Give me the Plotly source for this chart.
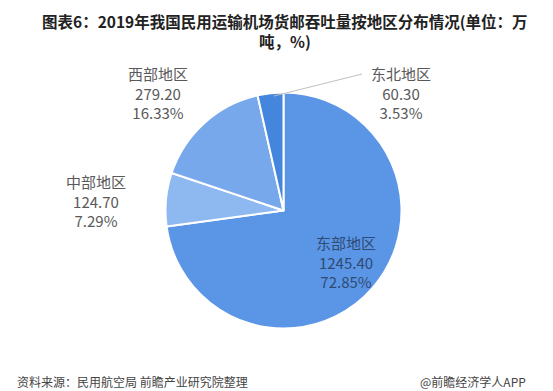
import plotly.graph_objects as go

regions = ["东部地区", "中部地区", "西部地区", "东北地区"]
volumes = [1245.40, 124.70, 279.20, 60.30]
shares = [72.85, 7.29, 16.33, 3.53]
colors = ["#5B96E6", "#8DB8F0", "#78A8EC", "#4486DE"]

W, H = 553, 391
FONT = "Noto Sans CJK SC, Microsoft YaHei, sans-serif"

fig = go.Figure()
fig.add_trace(go.Pie(
    labels=regions,
    values=volumes,
    sort=False,
    direction="clockwise",
    rotation=0,
    marker=dict(colors=colors, line=dict(color="#FFFFFF", width=2)),
    textinfo="none",
    hoverinfo="label+value+percent",
    showlegend=False,
    domain=dict(x=[(275.5 - 118) / W, (275.5 + 118) / W],
                y=[(H - 202.5 - 118) / H, (H - 202.5 + 118) / H]),
))

# label block positions (pixel centres) – layout only
label_pos = {
    "东部地区": (338, 254, "#2E4B73"),
    "中部地区": (88, 193, "#595959"),
    "西部地区": (150, 85, "#595959"),
    "东北地区": (393, 85, "#595959"),
}
for name, v, s in zip(regions, volumes, shares):
    px, py, col = label_pos[name]
    fig.add_annotation(
        x=px / W, y=1 - py / H, xref="paper", yref="paper",
        xanchor="center", yanchor="middle", showarrow=False,
        text=f"{name}<br>{v:.2f}<br>{s:.2f}%",
        font=dict(family=FONT, size=15, color=col),
        align="center",
    )

# leader line for 东北地区
fig.add_shape(type="line", xref="paper", yref="paper",
              x0=266 / W, y0=1 - 88 / H, x1=354 / W, y1=1 - 66 / H,
              line=dict(color="#BFBFBF", width=1))

title_lines = ["图表6：2019年我国民用运输机场货邮吞吐量按地区分布情况(单位：万", "吨，%)"]
for i, t in enumerate(title_lines):
    fig.add_annotation(
        x=0.5, y=1 - (13 + 20 * i) / H, xref="paper", yref="paper",
        xanchor="center", yanchor="middle", showarrow=False,
        text=f"<b>{t}</b>",
        font=dict(family=FONT, size=15.5, color="#222222"), align="center",
    )

fig.add_annotation(
    x=7 / W, y=1 - 373 / H, xref="paper", yref="paper",
    xanchor="left", yanchor="middle", showarrow=False,
    text="资料来源：民用航空局 前瞻产业研究院整理",
    font=dict(family=FONT, size=12, color="#444444"),
)
fig.add_annotation(
    x=410 / W, y=1 - 373 / H, xref="paper", yref="paper",
    xanchor="left", yanchor="middle", showarrow=False,
    text="@前瞻经济学人APP",
    font=dict(family=FONT, size=12, color="#444444"),
)

fig.update_layout(
    width=W, height=H,
    margin=dict(l=0, r=0, t=0, b=0),
    paper_bgcolor="#FFFFFF", plot_bgcolor="#FFFFFF",
    font=dict(family=FONT),
)

fig.write_html("out.html")
